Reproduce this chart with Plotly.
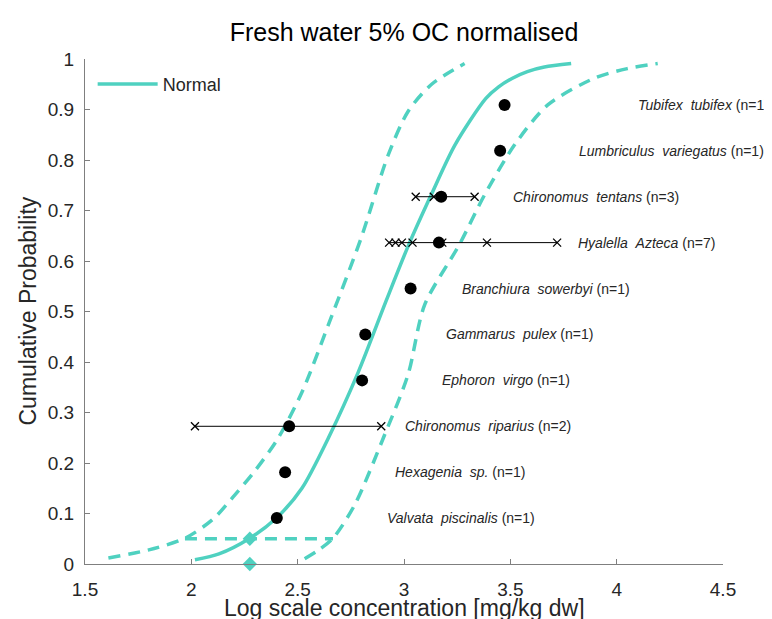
import plotly.graph_objects as go

# ---- data ----
species = ["Valvata  piscinalis", "Hexagenia  sp.", "Chironomus  riparius", "Ephoron  virgo",
           "Gammarus  pulex", "Branchiura  sowerbyi", "Hyalella  Azteca", "Chironomus  tentans",
           "Lumbriculus  variegatus", "Tubifex  tubifex"]
n_obs = [1, 1, 2, 1, 1, 1, 7, 3, 1, 1]
dot_x = [2.402, 2.441, 2.460, 2.803, 2.818, 3.031, 3.164, 3.175, 3.452, 3.473]
cum_p = [0.0909, 0.1818, 0.2727, 0.3636, 0.4545, 0.5455, 0.6364, 0.7273, 0.8182, 0.9091]
# individual observations for species with n > 1
indiv = {
    "Chironomus  riparius": [2.017, 2.893],
    "Hyalella  Azteca": [2.93, 2.96, 2.99, 3.04, 3.18, 3.39, 3.72],
    "Chironomus  tentans": [3.055, 3.14, 3.332],
}
label_x = [2.915, 2.953, 3.0, 3.174, 3.193, 3.268, 3.812, 3.507, 3.817, 4.095]

# fitted normal curve
fit_x = [2.017, 2.13, 2.275, 2.40, 2.52, 2.645, 2.785, 2.915, 3.02, 3.128, 3.24, 3.385, 3.445, 3.51, 3.58, 3.66, 3.786]
fit_p = [0.0085, 0.02, 0.051, 0.091, 0.15, 0.25, 0.38, 0.52, 0.63, 0.731, 0.83, 0.922, 0.945, 0.962, 0.975, 0.984, 0.991]
# lower / upper confidence bands
lo_x = [1.610, 1.80, 1.970, 2.10, 2.205, 2.30, 2.408, 2.52, 2.65, 2.798, 2.925, 3.019, 3.13, 3.285]
lo_p = [0.012, 0.028, 0.051, 0.088, 0.137, 0.185, 0.249, 0.34, 0.48, 0.645, 0.809, 0.896, 0.950, 0.991]
hi_x = [2.533, 2.600, 2.666, 2.768, 2.909, 3.019, 3.097, 3.261, 3.379, 3.520, 3.676, 3.895, 4.05, 4.193]
hi_p = [0.0105, 0.028, 0.051, 0.117, 0.256, 0.375, 0.513, 0.633, 0.731, 0.830, 0.909, 0.962, 0.981, 0.991]
# HC5 and its confidence interval
hc5_x = 2.275
hc5_p = 0.05
hc5_ci = [1.970, 2.666]

x_ticks = [1.5, 2, 2.5, 3, 3.5, 4, 4.5]
y_ticks = [0, 0.1, 0.2, 0.3, 0.4, 0.5, 0.6, 0.7, 0.8, 0.9, 1]

TEAL = "#4fd1c0"
FONT = "Liberation Sans, Arial, sans-serif"
TXT = "#262626"
AX = "#7f7f7f"

fig = go.Figure()

fig.add_trace(go.Scatter(x=fit_x, y=fit_p, mode="lines", name="Normal",
                         line=dict(color=TEAL, width=3.5, shape="spline", smoothing=0.8), cliponaxis=False))
for bx, bp in [(lo_x, lo_p), (hi_x, hi_p)]:
    fig.add_trace(go.Scatter(x=bx, y=bp, mode="lines", showlegend=False,
                             line=dict(color=TEAL, width=3.5, dash="12px,8px", shape="spline", smoothing=0.8),
                             cliponaxis=False))
fig.add_trace(go.Scatter(x=hc5_ci, y=[hc5_p, hc5_p], mode="lines", showlegend=False,
                         line=dict(color=TEAL, width=3.5, dash="12px,8px")))
fig.add_trace(go.Scatter(x=[hc5_x, hc5_x], y=[hc5_p, 0], mode="markers", showlegend=False,
                         marker=dict(symbol="diamond", size=11, color=TEAL), cliponaxis=False))

# whiskers and individual observations
for sp, p in zip(species, cum_p):
    if sp in indiv:
        vals = indiv[sp]
        fig.add_trace(go.Scatter(x=[min(vals), max(vals)], y=[p, p], mode="lines", showlegend=False,
                                 line=dict(color="black", width=1)))
        fig.add_trace(go.Scatter(x=vals, y=[p] * len(vals), mode="markers", showlegend=False,
                                 marker=dict(symbol="x-thin", size=8, color="black",
                                             line=dict(color="black", width=1.3))))

fig.add_trace(go.Scatter(x=dot_x, y=cum_p, mode="markers", showlegend=False,
                         marker=dict(symbol="circle", size=12, color="black")))

for sp, n, lx, p in zip(species, n_obs, label_x, cum_p):
    txt = "<i>" + sp.replace("  ", "\u00a0\u00a0") + "</i> (n=" + str(n) + ")"
    fig.add_annotation(x=lx, y=p, text=txt, showarrow=False, xanchor="left", yanchor="middle",
                       borderpad=0, font=dict(family=FONT, size=14, color=TXT))

# axis titles
fig.add_annotation(text="Log scale concentration [mg/kg dw]", xref="paper", yref="paper",
                   x=0.5, y=0, yshift=-44, xanchor="center", yanchor="middle", showarrow=False,
                   borderpad=0, font=dict(family=FONT, size=23, color=TXT))
fig.add_annotation(text="Cumulative Probability", xref="paper", yref="paper",
                   x=0, y=0.5, xshift=-58, xanchor="center", yanchor="middle", textangle=-90,
                   showarrow=False, borderpad=0, font=dict(family=FONT, size=23, color=TXT))

fig.update_layout(
    width=772, height=619,
    margin=dict(l=77, r=57, t=51, b=63),
    paper_bgcolor="white", plot_bgcolor="white",
    title=dict(text="Fresh water 5% OC normalised", x=0.5, xref="paper", xanchor="center",
               y=0.961, yref="container", yanchor="middle",
               font=dict(family=FONT, size=25, color="black")),
    font=dict(family=FONT, color=TXT),
    showlegend=True,
    legend=dict(x=0.012, y=0.95, xanchor="left", yanchor="middle", bgcolor="rgba(0,0,0,0)",
                itemwidth=60, font=dict(family=FONT, size=18, color=TXT)),
    xaxis=dict(range=[1.5, 4.5], tickvals=x_ticks, ticktext=[f"{v:g}" for v in x_ticks],
               showgrid=False, zeroline=False, showline=True, linecolor=AX, linewidth=1,
               ticks="inside", ticklen=5, tickcolor=AX, tickfont=dict(size=19, color=TXT),
               ticklabelstandoff=8, automargin=False),
    yaxis=dict(range=[0, 1], tickvals=y_ticks, ticktext=[f"{v:g}" for v in y_ticks],
               showgrid=False, zeroline=False, showline=True, linecolor=AX, linewidth=1,
               ticks="inside", ticklen=5, tickcolor=AX, tickfont=dict(size=19, color=TXT),
               ticklabelstandoff=6, automargin=False),
)

fig.write_html("out.html")
